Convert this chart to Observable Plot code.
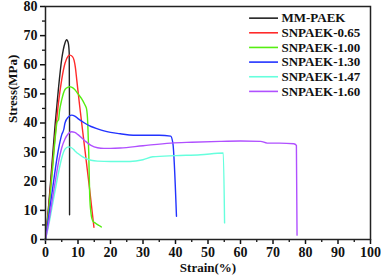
<!DOCTYPE html>
<html>
<head>
<meta charset="utf-8">
<script src="https://cdn.jsdelivr.net/npm/d3@7"></script>
<script src="https://cdn.jsdelivr.net/npm/@observablehq/plot@0.6"></script>
<style>
body { margin: 0; background: #fff; }
</style>
</head>
<body>
<div id="chart"></div>
<script>
const seriesNames = ["MM-PAEK", "SNPAEK-0.65", "SNPAEK-1.00", "SNPAEK-1.30", "SNPAEK-1.47", "SNPAEK-1.60"];
const seriesColors = ["#222222", "#ff2a2a", "#55ee11", "#2233ff", "#66ffdd", "#b050ff"];

const mmX = [0, 1, 2, 3, 4, 5, 6, 6.5, 7, 7.3, 7.4, 7.4];
const mmY = [0, 12, 26, 40, 52, 62, 67.5, 68.6, 67.5, 64, 40, 8.5];

const s065X = [0, 1, 2, 3, 4, 5, 6, 7, 7.5, 8.3, 8.8, 9.2, 9.6, 10.5, 12, 13.5, 14.9];
const s065Y = [0, 11, 24, 36, 47, 55, 60.5, 63, 63.3, 62.8, 61.5, 59, 55, 46, 32, 18, 4.2];

const s100X = [0, 1, 2, 3, 3.6, 4, 4.3, 5, 6, 7, 7.5, 8, 9, 10, 11, 12, 12.6, 13, 13.3, 13.6, 14, 14.5, 15.5, 16.5, 17.2];
const s100Y = [0, 10, 22, 35, 40.5, 41, 44, 48, 51.5, 52.3, 52.5, 52.3, 51.5, 50, 48.5, 46.5, 45, 40, 30, 15, 9, 6.5, 5.5, 4.8, 4.3];

const s130X = [0, 1, 2, 3, 4, 5, 5.6, 6, 7, 8, 9, 10, 12, 14, 16, 18, 20, 23, 27, 30, 35, 38.5, 39.2, 40.3];
const s130Y = [0, 8, 16, 24, 31, 36, 37.7, 40, 42, 42.7, 42.4, 41.5, 40, 38.8, 38, 37.3, 36.8, 36.3, 35.8, 35.8, 35.8, 35.5, 33, 8];

const s147X = [0, 1, 2, 3, 4, 5, 6, 7, 8, 9, 10, 12, 14, 16, 20, 26, 30, 33, 40, 47.7, 54.7, 55.1];
const s147Y = [0, 5, 11, 17, 23, 28, 31, 31.8, 31.5, 30.5, 29.5, 28, 27.2, 26.9, 26.8, 26.8, 27.4, 28.4, 28.8, 29.1, 29.7, 5.7];

const s160X = [0, 1, 2, 3, 4, 5, 6, 7, 8, 9, 10, 12, 14, 16, 18, 20, 23, 30, 38.5, 45, 53.8, 60, 66.2, 68.2, 72, 76.4, 77.2, 77.4];
const s160Y = [0, 6, 13, 20, 26.5, 31.5, 34.5, 36.3, 37, 36.8, 36, 34, 32.3, 31.5, 31.3, 31.3, 31.4, 32.2, 33.1, 33.4, 33.7, 33.8, 33.7, 33.1, 33.1, 32.9, 32.3, 1.5];

const xTicks = [0, 10, 20, 30, 40, 50, 60, 70, 80, 90, 100];
const xMinor = [5, 15, 25, 35, 45, 55, 65, 75, 85, 95];
const yTicks = [0, 10, 20, 30, 40, 50, 60, 70, 80];
const yMinor = [5, 15, 25, 35, 45, 55, 65, 75];

const allX = [mmX, s065X, s100X, s130X, s147X, s160X];
const allY = [mmY, s065Y, s100Y, s130Y, s147Y, s160Y];

const rows = [];
allX.forEach((xs, i) => xs.forEach((x, j) => rows.push({series: seriesNames[i], x, y: allY[i][j]})));

const legend = seriesNames.map((name, i) => ({name, color: seriesColors[i], y: 76 - 5.03 * i}));

const font = "'Liberation Serif', 'Times New Roman', serif";

const chart = Plot.plot({
  width: 381,
  height: 279,
  marginLeft: 45,
  marginRight: 11,
  marginTop: 6,
  marginBottom: 40,
  style: {fontFamily: font, fontWeight: "bold", fontSize: "14px", color: "#111", background: "#fff"},
  x: {domain: [0, 100]},
  y: {domain: [0, 80]},
  color: {domain: seriesNames, range: seriesColors},
  marks: [
    Plot.axisX({ticks: xTicks, tickSize: 5, tickPadding: 3, fontSize: 14, fontWeight: "bold", fontFamily: font, label: null, strokeWidth: 1.5}),
    Plot.axisX({ticks: xMinor, tickSize: 3, text: null, label: null, strokeWidth: 1.3}),
    Plot.axisY({ticks: yTicks, tickSize: 5, tickPadding: 3, fontSize: 14, fontWeight: "bold", fontFamily: font, label: null, strokeWidth: 1.5}),
    Plot.axisY({ticks: yMinor, tickSize: 3, text: null, label: null, strokeWidth: 1.3}),
    Plot.text(["Strain(%)"], {frameAnchor: "bottom", dy: 32, fontSize: 13, fontWeight: "bold", fontFamily: font}),
    Plot.text(["Stress(MPa)"], {frameAnchor: "left", dx: -33, rotate: -90, fontSize: 13, fontWeight: "bold", fontFamily: font}),
    Plot.line(rows, {x: "x", y: "y", z: "series", stroke: "series", strokeWidth: 1.4, curve: "monotone-x"}),
    Plot.ruleY(legend, {y: "y", x1: 62.8, x2: 71.7, stroke: "color", strokeWidth: 1.6}),
    Plot.text(legend, {x: 72.6, y: "y", text: "name", textAnchor: "start", fontSize: 13, fontWeight: "bold", fontFamily: font, fill: "#111"}),
    Plot.frame({stroke: "#222", strokeWidth: 1.5})
  ]
});
document.getElementById("chart").appendChild(chart);
</script>
</body>
</html>
